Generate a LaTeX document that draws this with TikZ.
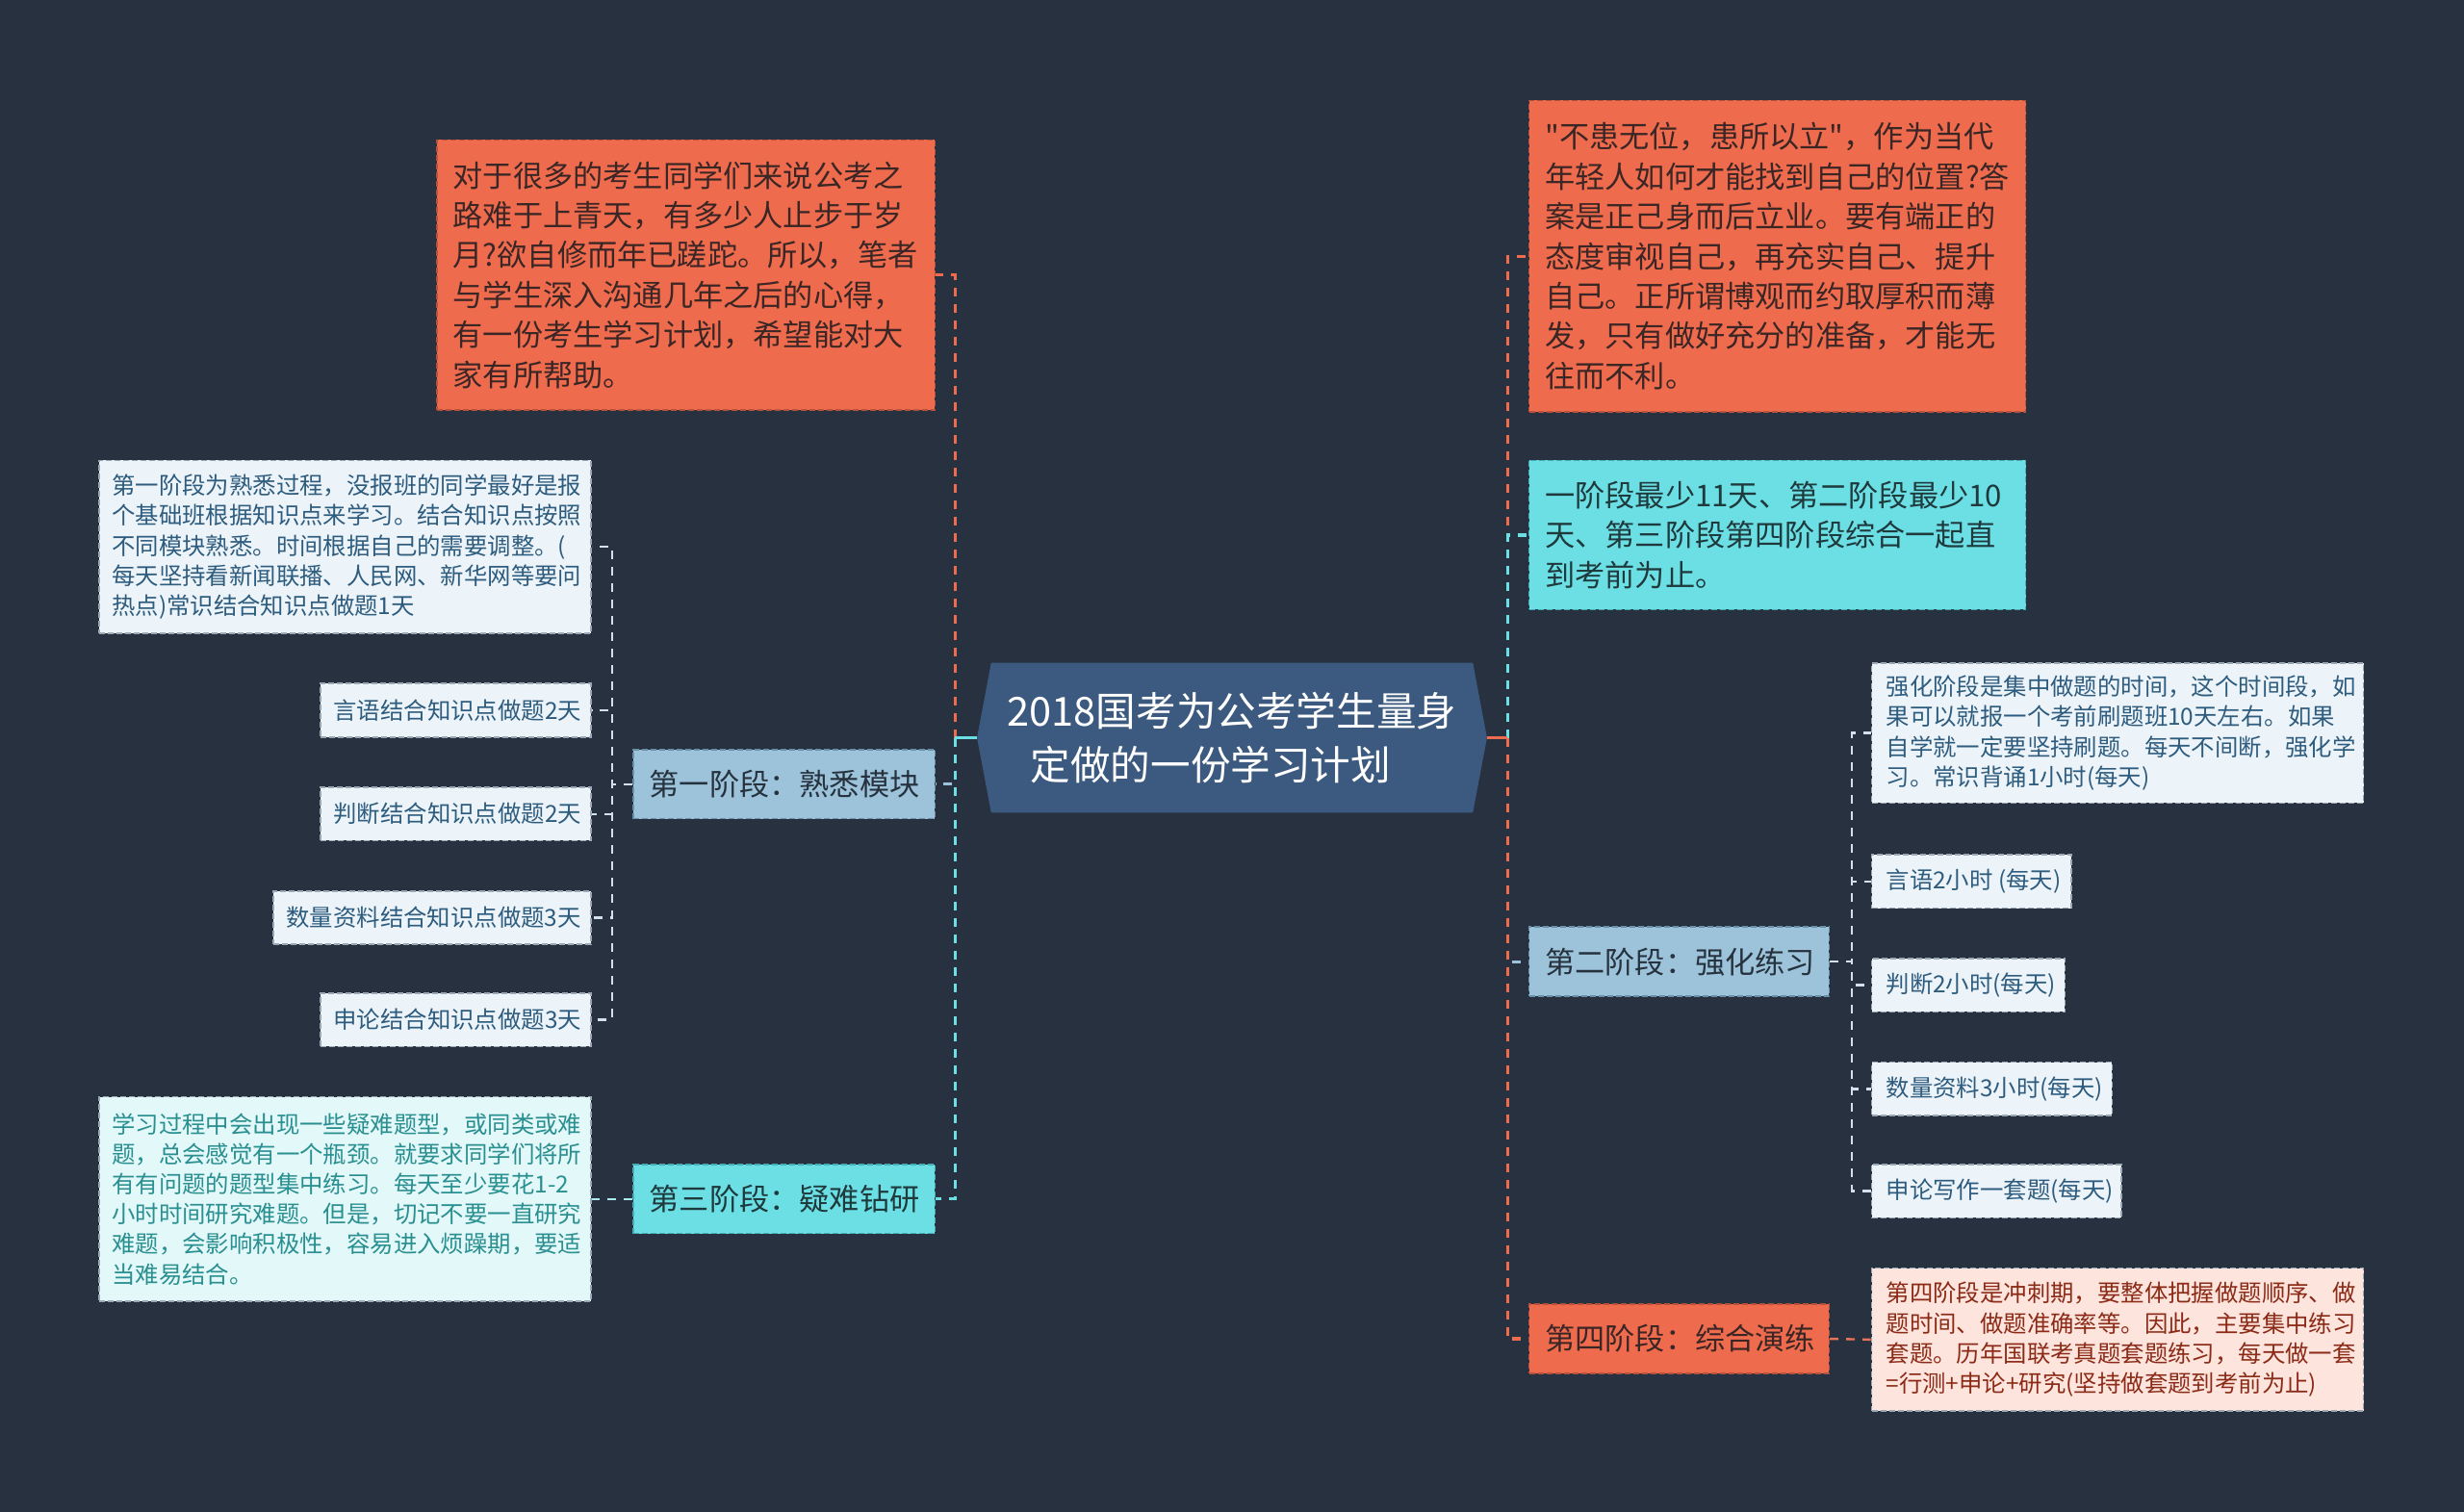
\documentclass[tikz,border=0pt]{standalone}
\usepackage{fontspec}
\setmainfont{Noto Sans CJK SC}[Ligatures=TeXOff]
\usetikzlibrary{fit}
\pgfdeclarelayer{back}
\pgfdeclarelayer{lines}
\pgfsetlayers{back,lines,main}
\definecolor{bg}{HTML}{283140}
\definecolor{cfill}{HTML}{3C5A7F}
\definecolor{redc}{HTML}{EF6B4D}
\definecolor{redb}{HTML}{B9503A}
\definecolor{redt}{HTML}{3B2626}
\definecolor{cyanc}{HTML}{6CDFE5}
\definecolor{cyanb}{HTML}{45AEB4}
\definecolor{cyant}{HTML}{1F3A3D}
\definecolor{lbc}{HTML}{9CC3DA}
\definecolor{lbb}{HTML}{6A8FA8}
\definecolor{lbt}{HTML}{27323F}
\definecolor{palef}{HTML}{EDF4F9}
\definecolor{paleb}{HTML}{9AA8B6}
\definecolor{palet}{HTML}{2E5C7E}
\definecolor{pcyf}{HTML}{E3F8F9}
\definecolor{pcyt}{HTML}{2A8F90}
\definecolor{pinkf}{HTML}{FDE4DD}
\definecolor{pinkt}{HTML}{8B2B17}
\definecolor{subl}{HTML}{D3E1EC}
\definecolor{subc}{HTML}{A8EBEF}
\definecolor{subr}{HTML}{E8735A}
\tikzset{
  boxred/.style={draw=redb, fill=redc, dash pattern=on 3pt off 1.5pt, line width=0.8pt},
  boxcyan/.style={draw=cyanb, fill=cyanc, dash pattern=on 3pt off 1.5pt, line width=0.8pt},
  boxlb/.style={draw=lbb, fill=lbc, dash pattern=on 3pt off 1.5pt, line width=0.8pt},
  boxpale/.style={draw=paleb, fill=palef, dash pattern=on 3pt off 1.5pt, line width=0.8pt},
  boxpcy/.style={draw=paleb, fill=pcyf, dash pattern=on 3pt off 1.5pt, line width=0.8pt},
  boxpink/.style={draw=paleb, fill=pinkf, dash pattern=on 3pt off 1.5pt, line width=0.8pt},
  bigtext/.style={font=\fontsize{15.6pt}{20.7pt}\selectfont},
  smalltext/.style={font=\fontsize{12.2pt}{15.6pt}\selectfont},
  conn/.style={line width=1.6pt, dash pattern=on 4.5pt off 4pt},
  subconn/.style={line width=1.2pt, dash pattern=on 4.5pt off 4pt},
  stub/.style={line width=1.6pt},
}
\newcommand{\bnode}[9]{%
  \node[#2, inner sep=0pt, fit={(#3,#4)(#5,#6)}] (#1) {};
  \node[#7, anchor=west, align=left, inner sep=0pt] (#1t) at ({#3+#8},{(#4+#6)/2}) {#9};}
\begin{document}
\begin{tikzpicture}[x=0.8163pt, y=-0.8163pt]
\begin{pgfonlayer}{back}
\fill[bg] (0,0) rectangle (1568,962);
\end{pgfonlayer}
\useasboundingbox (0,0) rectangle (1568,962);

% center
\node[minimum width=264.5pt, minimum height=77.5pt, inner sep=0pt] (c) at (784,469.5) {};
\fill[cfill] (c.west) -- ([xshift=7.35pt]c.north west) -- ([xshift=-7.35pt]c.north east)
  -- (c.east) -- ([xshift=-7.35pt]c.south east) -- ([xshift=7.35pt]c.south west) -- cycle;
\node[text=white, align=center, inner sep=0pt, font=\fontsize{20.8pt}{27.8pt}\selectfont] (ct) at (c.center) {2018国考为公考学生量身\\定做的一份学习计划\kern1.06em\null};

% left
\bnode{n1}{boxred}{278}{89}{595}{261}{bigtext,text=redt}{10}{对于很多的考生同学们来说公考之\\路难于上青天，有多少人止步于岁\\月?欲自修而年已蹉跎。所以，笔者\\与学生深入沟通几年之后的心得，\\有一份考生学习计划，希望能对大\\家有所帮助。}
\bnode{n2}{boxpale}{63}{293}{376}{403}{smalltext,text=palet}{8}{第一阶段为熟悉过程，没报班的同学最好是报\\个基础班根据知识点来学习。结合知识点按照\\不同模块熟悉。时间根据自己的需要调整。(\\每天坚持看新闻联播、人民网、新华网等要问\\热点)常识结合知识点做题1天}
\bnode{n3}{boxpale}{204}{435}{376}{469}{smalltext,text=palet}{8}{言语结合知识点做题2天}
\bnode{n4}{boxpale}{204}{501}{376}{535}{smalltext,text=palet}{8}{判断结合知识点做题2天}
\bnode{n5}{boxpale}{174}{567}{376}{601}{smalltext,text=palet}{8}{数量资料结合知识点做题3天}
\bnode{n6}{boxpale}{204}{632}{376}{666}{smalltext,text=palet}{8}{申论结合知识点做题3天}
\bnode{n7}{boxlb}{403}{477}{595}{521}{bigtext,text=lbt}{10}{第一阶段：熟悉模块}
\bnode{n8}{boxcyan}{403}{741}{595}{785}{bigtext,text=cyant}{10}{第三阶段：疑难钻研}
\bnode{n9}{boxpcy}{63}{698}{376}{828}{smalltext,text=pcyt}{8}{学习过程中会出现一些疑难题型，或同类或难\\题，总会感觉有一个瓶颈。就要求同学们将所\\有有问题的题型集中练习。每天至少要花1-2\\小时时间研究难题。但是，切记不要一直研究\\难题，会影响积极性，容易进入烦躁期，要适\\当难易结合。}
% right
\bnode{n10}{boxred}{973}{64}{1289}{262}{bigtext,text=redt}{10}{"不患无位，患所以立"，作为当代\\年轻人如何才能找到自己的位置?答\\案是正己身而后立业。要有端正的\\态度审视自己，再充实自己、提升\\自己。正所谓博观而约取厚积而薄\\发，只有做好充分的准备，才能无\\往而不利。}
\bnode{n11}{boxcyan}{973}{293}{1289}{388}{bigtext,text=cyant}{10}{一阶段最少11天、第二阶段最少10\\天、第三阶段第四阶段综合一起直\\到考前为止。}
\bnode{n12}{boxlb}{973}{590}{1164}{634}{bigtext,text=lbt}{10}{第二阶段：强化练习}
\bnode{n13}{boxred}{973}{830}{1164}{874}{bigtext,text=redt}{10}{第四阶段：综合演练}
\bnode{n14}{boxpale}{1191}{422}{1504}{511}{smalltext,text=palet}{9}{强化阶段是集中做题的时间，这个时间段，如\\果可以就报一个考前刷题班10天左右。如果\\自学就一定要坚持刷题。每天不间断，强化学\\习。常识背诵1小时(每天)}
\bnode{n15}{boxpale}{1191}{544}{1318}{578}{smalltext,text=palet}{9}{言语2小时 (每天)}
\bnode{n16}{boxpale}{1191}{610}{1314}{644}{smalltext,text=palet}{9}{判断2小时(每天)}
\bnode{n17}{boxpale}{1191}{676}{1344}{710}{smalltext,text=palet}{9}{数量资料3小时(每天)}
\bnode{n18}{boxpale}{1191}{741}{1350}{775}{smalltext,text=palet}{9}{申论写作一套题(每天)}
\bnode{n19}{boxpink}{1191}{807}{1504}{898}{smalltext,text=pinkt}{9}{第四阶段是冲刺期，要整体把握做题顺序、做\\题时间、做题准确率等。因此，主要集中练习\\套题。历年国联考真题套题练习，每天做一套\\=行测+申论+研究(坚持做套题到考前为止)}

\begin{pgfonlayer}{lines}
% left main branches
\draw[conn, redc] ([xshift=-11.4pt]c.west) |- (n1.east);
\draw[conn, lbc] ([xshift=-11.4pt]c.west) |- (n7.east);
\draw[conn, cyanc] ([xshift=-11.4pt]c.west) |- (n8.east);
\draw[stub, cyanc] (c.west) -- ([xshift=-11.4pt]c.west);
% right main branches
\draw[conn, redc] ([xshift=10.6pt]c.east) |- (n10.west);
\draw[conn, cyanc] ([xshift=10.6pt]c.east) |- (n11.west);
\draw[conn, lbc] ([xshift=10.6pt]c.east) |- (n12.west);
\draw[conn, redc] ([xshift=10.6pt]c.east) |- (n13.west);
\draw[stub, redc] (c.east) -- ([xshift=10.6pt]c.east);
% first stage children
\foreach \k in {n2,n3,n4,n5,n6}
  \draw[subconn, subl] (n7.west) -- ++(-13,0) |- (\k.east);
% third stage child
\draw[subconn, subc] (n8.west) -- (n9.east);
% second stage children
\foreach \k in {n14,n15,n16,n17,n18}
  \draw[subconn, subl] (n12.east) -- ++(14,0) |- (\k.west);
% fourth stage child
\draw[subconn, subr] (n13.east) -- (n19.west);
\end{pgfonlayer}
\end{tikzpicture}
\end{document}
